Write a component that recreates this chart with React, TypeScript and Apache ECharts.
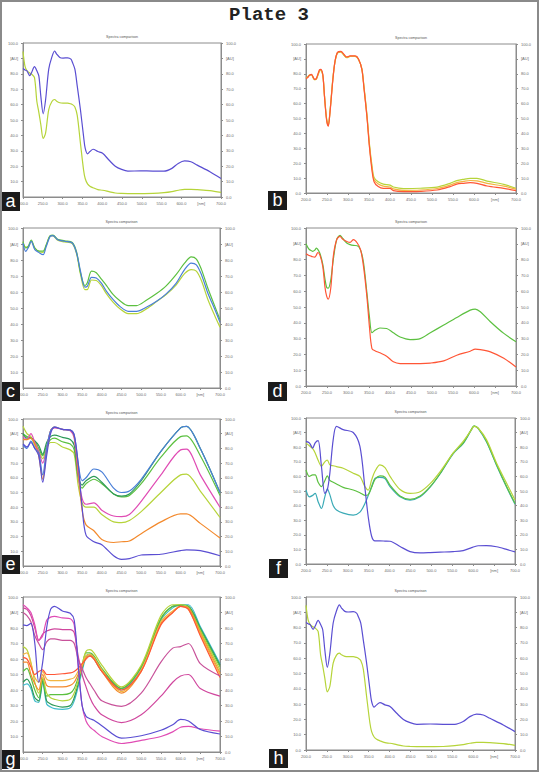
import React, { useEffect, useRef } from "react";
import * as echarts from "echarts";

// ---------- data (wavelength in nm, absorbance in AU) ----------
const X_TICKS = [200, 250, 300, 350, 400, 450, 500, 550, 600, 650, 700];

const WL_AH = [200,205,210,217,222,229,235,240,245,251,257,265,273,280,285,293,301,313,321,325,331,337,345,353,357,363,369,377,389,401,417,433,449,465,497,528,556,576,592,608,624,640,672,700];
const AH_PURPLE = [83.4,82.5,81.9,78.8,81,84.7,82,78.6,65.5,54,63,83,91,94.8,92.8,90.6,90.2,90.4,89.5,87.3,83,72,56.8,39.3,31.7,28,29.5,31,29.5,28.4,24,20,17.9,16.8,17,16.8,16.8,18.6,21.8,23.4,22.9,20.7,16.4,12];
const AH_GREEN = [94.5,85,82,80.5,79.7,77.5,62,55,47,38,41.5,56.8,62,63.3,62.2,61.2,61,61,60.5,60,58.5,53,35,17.5,12,8.5,7,6,4.8,4.4,3.5,2.6,2.3,2.2,2.2,2.3,2.8,3.5,4.4,5,5,4.8,4.2,3];

const WL_B = [200,204,208,213,217,221,225,232,235,240,244,249,253,257,264,269,275,283,291,297,305,317,325,333,338,345,351,357,362,372,384,400,408,432,472,512,543,559,575,591,607,631,671,700];
const B_ORANGE = [76.7,77.5,78.9,79.6,77.8,76.2,77.1,82.7,83,79.4,64.8,49,44.8,53.6,76,88.3,94.4,95,92.8,91.3,92,92,90,83,70.4,51.3,31,15.5,7.6,4.3,3.1,3.1,1.6,0.9,1.1,2,4.3,6,6.5,6.9,6.5,4.7,3.1,1.6];
const B_YELLOW = [77,77.8,79,79.4,77.5,76,76.8,82,82.5,79,65,49.5,45,54,76.5,88,94.2,94.8,92.5,91,91.8,91.8,89.8,83.2,71,52,32,17,9,6,4.6,4,2.8,1.8,2,3,5.3,7,7.8,8.4,8.2,6.5,4.6,2.6];
const B_GREEN = [77.3,78,79.2,79.2,77.3,76,76.5,81.8,82.2,79.2,65.5,50,45.5,54.5,77,88,94,94.5,92.2,90.8,91.6,91.6,89.6,83.4,71.5,53,33,18.5,10.5,7.5,6,5.3,4,3,3.2,4,6.5,8.3,9.2,9.8,9.8,8,5.8,3.2];

const WL_C = [200,207,213,221,230,242,251,259,269,276,288,306,325,336,346,357,363,374,386,399,412,429,446,467,488,514,539,564,589,610,627,640,653,669,687,700];
const C_BLUE = [90.6,85.4,87.5,91.7,86.5,84.4,83.3,88.5,94.8,95.2,92.7,91.7,90.6,84.4,72.9,63.1,63.5,69.2,68.8,65.6,60.4,55.2,51,47.9,47.9,50.6,54.2,59,65.6,74,78.1,77,70.8,59.4,49,41];
const C_GREEN = [91.5,87.5,88.5,92.5,87.5,85.5,85.5,89.5,95.2,95.5,93,92,91,85,72,64,65.6,73,72,68,64,58.3,54.5,51.5,51.5,55,59,64,71,78,82,80.6,74,62.5,51,42.7];
const C_YGREEN = [91,88,88,91.8,87.5,85,84.8,89,95,95,92.3,91.3,90.3,83.8,71,61.5,61.5,67.5,67.2,64,58.8,53.5,49.5,46.5,46.5,49.6,54,58.5,64.5,71.5,74,73,67,55.5,45,38];

const WL_D = [200,206,210,216,221,225,228,233,240,245,249,253,259,265,273,281,287,297,305,313,322,330,337,345,351,357,365,376,392,408,424,448,472,496,528,559,591,603,615,639,671,700];
const D_GREEN = [90,86.9,86,85.2,86,87.3,86.5,84.1,77,68,62.5,61.9,67.2,80,92.6,95.3,93.5,90.5,89.5,89,88.8,86,78,59,44,33.7,35.4,36.7,36.4,33.7,31,29.4,30,33.7,38.6,43.4,48,48.7,47,40.7,33.3,28];
const D_RED = [83.7,82.8,82.4,81.8,81.6,83,84.5,83,75.6,62.9,57,55,62,82,92.6,94.7,93,91.5,90.9,92.6,90.5,86.2,75.6,56.6,37.5,23.7,22.2,21,18.9,15.3,14.2,14.2,14.2,14.5,15.9,19.5,22,23.3,23,21.6,17.5,12];

const WL_E = [200,210,220,230,240,250,260,270,280,300,320,330,340,350,360,380,400,430,450,470,500,550,600,615,650,700];
const E_BLUE = [82,80,85,80,77,62,80,92,94.5,93,92.5,89,70,58,60,66,64,53,50,51,59,78,94,95,80,50];
const E_TEAL = [90,87,87,85,82,76,84,88,89,87.5,86,82,62,55,58,61,57,49,47.5,49,58,78,94,95,80,50];
const E_GREEN = [90,88,87,85,80,75,82,86,87,84.5,83,79,60,53,56,59,56,49,47,48,56,74,88,88.5,75,48];
const E_MAGENTA = [88,86,90,84,78,70,80,92,94,93,92,87,62,46,42,43,38,34,33.6,35,44,62,79,79.5,62,40];
const E_YGREEN = [95,90,88,82,78,73,80,84,84,81,79,76,55,43,40,40,35,30,29.5,31,37,50,62,62.5,51,33];
const E_ORANGE = [86,86,87,83,75,59,78,92,94.5,93,92.5,88,65,38,28,24,18,16,16.5,17,22,30,35.5,35.5,29,19];
const E_PURPLE = [83,81,84,80,75,57,75,90,94.5,93,92.5,89,70,40,21,16.5,14.5,7,4.5,5,7.5,8,10.5,11,10.5,7];

const WL_F = [200,208,216,222,229,237,245,251,257,265,273,289,313,329,341,349,357,365,377,389,401,425,449,473,497,521,552,576,596,602,612,632,656,680,700];
const F_PURPLE = [84,83,79.4,83,84.5,66.7,48.4,50.7,62,85,94.3,92,90.1,80.5,52,32,19,15.8,15.8,15.7,15.6,12,8.5,7.6,7.8,8.1,8.5,9.2,11.2,11.8,12.5,12.6,11.8,10,8.3];
const F_YGREEN = [82.8,81,79,76,71,67,70,71.1,67.9,67.3,66.7,65.6,62.2,60,53,50.7,57.6,63.5,67.9,66,60,51,48.4,49.5,55,63.3,75.9,84,92,94.3,93,85,69,55.3,43.8];
const F_GREEN = [64.4,60,61,61,56,53,57,60.3,57.3,56,54.8,52.5,50.7,48.8,47,47.5,52.5,58,60.3,59.4,54,46.6,44.3,46.6,53,62,75.9,82.8,92.4,94.7,93,84,68,53,41.5];
const F_TEAL = [50.7,46,47,48.4,42.7,38,46,51.5,47.5,40,37,34.8,33.5,35.5,41.5,47,53,58.7,59.4,58.5,53,46,43.8,46,52.6,61.8,75.5,82.5,92,94.5,92.8,83.5,67.5,52.5,41];

const WL_G = [200,210,220,230,240,250,260,270,280,300,320,330,340,350,360,370,380,400,450,500,550,580,600,620,650,700];
const G_PURPLE = [82,81.5,83,70,45,58,80,92,94,91,89.5,85,57,30,23,21.5,20.5,17,9,10.5,14,17.6,21,20,14.5,11.6];
const G_MAGENTA1 = [95,93,90,82,72,75,85,87,87.5,86.5,86,82,55,30,20,16,14,10,5.5,7.5,10,13,16,16.5,15,13.5];
const G_MAGENTA2 = [93,92,88,80,72,76,78,79,79.5,79,79,77,62,50,42,35,30,24,19,24,36,45,49,50,41,36];
const G_MAGENTA3 = [90,88,84,75,70,66,71,73,73,72,72,70,60,54,48,44,40,33,29.5,38,58,67,68,70,57,49];
const G_RED = [61,60,55,50,52,53,50,50,50,50.5,51,52,54,57,60,62,60,52,40,52,82,90,94,92,75,48];
const G_ORANGE1 = [63,64,57,48,45,52,47,46,46,46,47,48,52,56,62,63,61,53,39,53,84,91,94,92,76,50];
const G_ORANGE2 = [58,58,50,44,40,50,43,42,42,42,43,45,50,55,61,62,60,52,38,52,83,90,94,93,77,51];
const G_YGREEN = [68,66,58,45,38,48,38,35,34,33,34,38,46,56,65,66,64,56,42,56,88,95,95,93,78,53];
const G_GREEN = [52,54,48,40,35,47,36,37,37,37,38,41,48,56,64,64,62,54,41,55,86,94,95,94,79,55];
const G_DKGREEN = [45,47,43,35,33,46,33,31,30,29,30,35,44,54,62,63,61,53,41,55,86,94,94.5,94,80,56];
const G_CYAN = [43,44,41,33,32,45,31,29,28,27.5,28.5,33,42,52,61,62,60,52,40,54,85,93,95,95,81,57];

// ---------- styling ----------
const C = {
  purple: "#5a4ed2",
  ygreen: "#b6d43a",
  green: "#5cc040",
  dkgreen: "#2e9a58",
  blue: "#4a7fd8",
  teal: "#3aaab6",
  red: "#ff5636",
  orange: "#f3892c",
  yorange: "#f2b541",
  magenta: "#e04cb4",
  magenta2: "#d0479e",
  magenta3: "#c8529a",
  cyan: "#42bccc",
};

const PANELS = [
  { letter: "a", col: 0, box: [23, 43, 198, 154], lb: [1, 192], wl: WL_AH, lines: [[AH_GREEN, C.ygreen], [AH_PURPLE, C.purple]] },
  { letter: "b", col: 1, box: [306, 44, 210, 149], lb: [268, 191], wl: WL_B, lines: [[B_GREEN, C.ygreen], [B_YELLOW, C.yorange], [B_ORANGE, C.red]] },
  { letter: "c", col: 0, box: [23, 228, 197, 160], lb: [1, 382], wl: WL_C, lines: [[C_YGREEN, C.ygreen], [C_GREEN, C.green], [C_BLUE, C.blue]] },
  { letter: "d", col: 1, box: [306, 228, 210, 158], lb: [268, 382], wl: WL_D, lines: [[D_GREEN, C.green], [D_RED, C.red]] },
  { letter: "e", col: 0, box: [23, 419, 197, 147], lb: [1, 555], wl: WL_E, lines: [[E_YGREEN, C.ygreen], [E_GREEN, C.green], [E_TEAL, C.dkgreen], [E_MAGENTA, C.magenta], [E_ORANGE, C.orange], [E_BLUE, C.blue], [E_PURPLE, C.purple]] },
  { letter: "f", col: 1, box: [306, 418, 209, 146], lb: [269, 559], wl: WL_F, lines: [[F_TEAL, C.teal], [F_GREEN, C.green], [F_YGREEN, C.ygreen], [F_PURPLE, C.purple]] },
  { letter: "g", col: 0, box: [23, 597, 197, 155], lb: [1, 750], wl: WL_G, lines: [[G_CYAN, C.cyan], [G_DKGREEN, C.dkgreen], [G_GREEN, C.green], [G_YGREEN, C.ygreen], [G_ORANGE2, C.orange], [G_ORANGE1, C.yorange], [G_RED, C.red], [G_MAGENTA3, C.magenta3], [G_MAGENTA2, C.magenta2], [G_MAGENTA1, C.magenta], [G_PURPLE, C.purple]] },
  { letter: "h", col: 1, box: [306, 597, 209, 153], lb: [269, 749], wl: WL_AH, lines: [[AH_GREEN, C.ygreen], [AH_PURPLE, C.purple]] },
];

const AXIS_COLOR = "#8c8c8c";
const LABEL_COLOR = "#6a6a6a";
const fmtY = (v: number) => (v === 90 ? "[AU]" : v.toFixed(1));
const fmtX = (v: number) => (v === X_TICKS[9] ? "[nm]" : v.toFixed(1));

export default function App() {
  const ref = useRef<HTMLDivElement>(null);
  useEffect(() => {
    if (!ref.current) return;
    const chart = echarts.init(ref.current, undefined, { renderer: "svg" });

    const grid: any[] = [];
    const xAxis: any[] = [];
    const yAxis: any[] = [];
    const series: any[] = [];
    const graphic: any[] = [];

    PANELS.forEach((p, i) => {
      const [left, top, width, height] = p.box;
      grid.push({ left, top, width, height, show: true, borderColor: AXIS_COLOR, borderWidth: 1, backgroundColor: "#fff" });
      xAxis.push({
        type: "value", gridIndex: i, min: 200, max: 700, interval: 50,
        axisLine: { show: true, onZero: false, lineStyle: { color: AXIS_COLOR, width: 1 } },
        axisTick: { show: true, length: 2, lineStyle: { color: AXIS_COLOR } },
        axisLabel: { fontSize: 4, color: LABEL_COLOR, margin: 4, formatter: fmtX, fontFamily: "Liberation Sans" },
        splitLine: { show: false },
      });
      const yBase = {
        type: "value", gridIndex: i, min: 0, max: 100, interval: 10,
        axisLine: { show: true, lineStyle: { color: AXIS_COLOR, width: 1 } },
        axisTick: { show: true, length: 2, lineStyle: { color: AXIS_COLOR } },
        splitLine: { show: false },
      };
      const lab = { fontSize: 4, color: LABEL_COLOR, margin: 5, formatter: fmtY, fontFamily: "Liberation Sans" };
      // in the left column the panel letter box covers the left axis's 0.0 label
      yAxis.push({ ...yBase, position: "left", axisLabel: { ...lab, showMinLabel: p.col === 1 } });
      yAxis.push({ ...yBase, position: "right", axisLabel: lab });

      p.lines.forEach(([vals, color]) => {
        series.push({
          type: "line", xAxisIndex: i, yAxisIndex: 2 * i,
          data: p.wl.map((x, k) => [x, (vals as number[])[k]]),
          showSymbol: false, smooth: 0.3, silent: true,
          lineStyle: { width: 1.2, color: color as string },
          itemStyle: { color: color as string },
        });
      });

      graphic.push({
        type: "text", x: left + width / 2, y: top - 6, z: 10,
        style: { text: "Spectra comparison", fontSize: 3.6, fill: "#555", align: "center", verticalAlign: "middle", fontFamily: "Liberation Sans" },
      });
      graphic.push({ type: "rect", x: p.lb[0], y: p.lb[1], z: 20, shape: { width: 19, height: 19 }, style: { fill: "#1b1b1b" } });
      graphic.push({
        type: "text", x: p.lb[0] + 9.5, y: p.lb[1] + 9, z: 21,
        style: { text: p.letter, fontSize: 18, fill: "#fff", align: "center", verticalAlign: "middle", fontFamily: "Liberation Sans" },
      });
    });

    graphic.push({
      type: "text", x: 269, y: 15, z: 10,
      style: { text: "Plate 3", fontSize: 19, fontWeight: "bold", fill: "#222", align: "center", verticalAlign: "middle", fontFamily: "Liberation Mono" },
    });
    graphic.push({
      type: "rect", x: 1, y: 1, z: 30, shape: { width: 537, height: 770 },
      style: { fill: "none", stroke: "#8a8a8a", lineWidth: 2 },
    });

    chart.setOption({
      animation: false,
      backgroundColor: "#ffffff",
      grid, xAxis, yAxis, series, graphic,
    });
    return () => chart.dispose();
  }, []);

  return <div ref={ref} style={{ position: "absolute", left: 0, top: 0, width: 539, height: 772 }} />;
}
